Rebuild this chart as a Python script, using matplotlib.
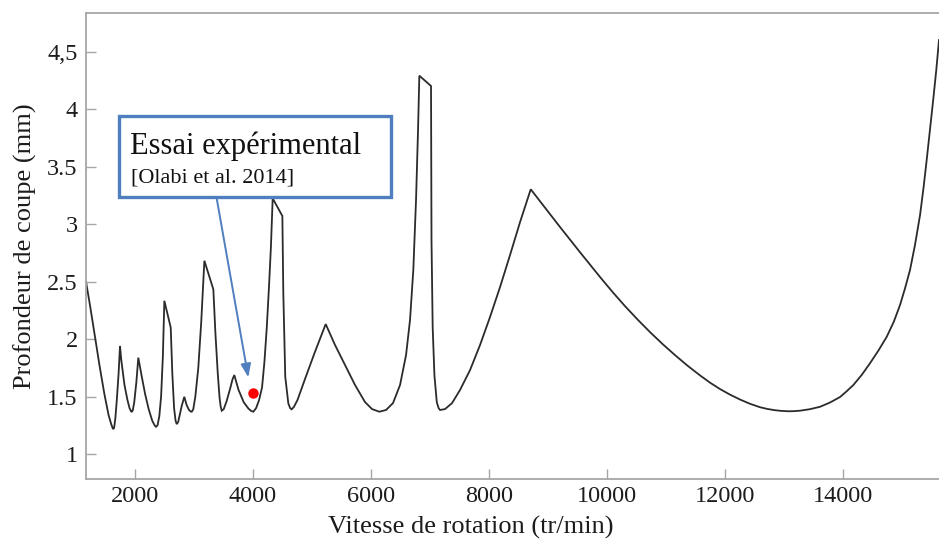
import matplotlib
matplotlib.use("Agg")
import matplotlib.pyplot as plt
from matplotlib.patches import Rectangle

plt.rcParams['font.family'] = ['Liberation Serif', 'DejaVu Serif']

# Stability lobe boundary: spindle speed (tr/min) vs limiting depth of cut (mm)
speed = [1178, 1250, 1330, 1410, 1490, 1560, 1605, 1630, 1641, 1655, 1675, 1700, 1730, 1754,
         1775, 1830, 1880, 1915, 1940, 1953, 1970, 1995, 2030, 2064,
         2120, 2180, 2240, 2300, 2340, 2364, 2390, 2420, 2450, 2480, 2505, 2613,
         2640, 2670, 2695, 2715, 2740, 2770, 2800, 2843, 2880, 2920, 2950, 2969,
         2995, 3030, 3080, 3130, 3183, 3335, 3370, 3410, 3440, 3460, 3477,
         3510, 3560, 3620, 3660, 3690, 3760, 3850, 3930, 3975, 4012,
         4060, 4110, 4160, 4200, 4240, 4280, 4310, 4340, 4504, 4520, 4553, 4605, 4635, 4662,
         4700, 4760, 4900, 5050, 5238,
         5396, 5565, 5735, 5904, 6023, 6147,
         6260, 6378, 6497, 6599, 6666, 6722, 6768, 6802, 6824, 7022,
         7030, 7050, 7080, 7120, 7150, 7175,
         7259, 7378, 7513, 7683, 7852, 8021, 8191, 8360, 8530, 8711,
         8950, 9207, 9550, 9885, 10100, 10308, 10520, 10732, 10945, 11155, 11365,
         11578, 11750, 11917, 12085, 12256, 12425, 12595, 12720, 12849, 12960, 13074,
         13170, 13272, 13440, 13611, 13780, 13950, 14060, 14175, 14320, 14458, 14600,
         14741, 14860, 14966, 15050, 15135, 15220, 15305, 15365, 15418, 15475, 15530,
         15580, 15626]
depth = [2.50, 2.28, 2.02, 1.76, 1.52, 1.34, 1.26, 1.225, 1.217, 1.23, 1.31, 1.47, 1.70, 1.94,
         1.82, 1.60, 1.47, 1.40, 1.372, 1.368, 1.38, 1.45, 1.62, 1.838,
         1.68, 1.52, 1.39, 1.29, 1.25, 1.237, 1.25, 1.33, 1.50, 1.85, 2.333, 2.10,
         1.70, 1.40, 1.29, 1.26, 1.28, 1.35, 1.42, 1.498, 1.43, 1.385, 1.37, 1.368,
         1.39, 1.50, 1.75, 2.15, 2.681, 2.432, 2.05, 1.70, 1.49, 1.41, 1.377,
         1.39, 1.46, 1.57, 1.65, 1.687, 1.56, 1.45, 1.395, 1.375, 1.368,
         1.40, 1.47, 1.58, 1.80, 2.10, 2.48, 2.80, 3.223, 3.07, 2.40, 1.672, 1.44, 1.40, 1.389,
         1.41, 1.47, 1.67, 1.88, 2.13,
         1.948, 1.774, 1.600, 1.452, 1.391, 1.368,
         1.383, 1.443, 1.600, 1.861, 2.165, 2.600, 3.209, 3.817, 4.29, 4.20,
         2.86, 2.10, 1.68, 1.45, 1.40, 1.383,
         1.391, 1.443, 1.557, 1.730, 1.948, 2.191, 2.452, 2.730, 3.017, 3.302,
         3.144, 2.974, 2.752, 2.539, 2.407, 2.286, 2.170, 2.060, 1.956, 1.860, 1.769,
         1.684, 1.620, 1.565, 1.517, 1.474, 1.437, 1.407, 1.392, 1.381, 1.375, 1.372,
         1.373, 1.377, 1.390, 1.411, 1.448, 1.496, 1.545, 1.600, 1.690, 1.790, 1.900,
         2.020, 2.15, 2.296, 2.44, 2.600, 2.82, 3.078, 3.32, 3.56, 3.83, 4.09,
         4.34, 4.60]

# Experimental test point
test_speed = 4000
test_depth = 1.53

x_ticks = [2000, 4000, 6000, 8000, 10000, 12000, 14000]
x_tick_labels = ["2000", "4000", "6000", "8000", "10000", "12000", "14000"]
y_ticks = [1, 1.5, 2, 2.5, 3, 3.5, 4, 4.5]
y_tick_labels = ["1", "1.5", "2", "2.5", "3", "3.5", "4", "4,5"]

fig = plt.figure(figsize=(9.39, 5.39), dpi=100)
ax = fig.add_axes([86 / 939, 1 - 479 / 539, 853 / 939, 466 / 539])

ax.plot(speed, depth, color='#2b2b2b', lw=1.3, solid_joinstyle='miter')
ax.plot([test_speed], [test_depth], 'o', color='#ff0000', markersize=7.5,
        markeredgewidth=0)

ax.set_xlim(1178, 15626)
ax.set_ylim(0.783, 4.835)

ax.set_xticks(x_ticks)
ax.set_xticklabels(x_tick_labels)
ax.set_yticks(y_ticks)
ax.set_yticklabels(y_tick_labels)

spine_color = '#a6a6a6'
for side in ['left', 'bottom', 'top']:
    ax.spines[side].set_color(spine_color)
    ax.spines[side].set_linewidth(1.3)
ax.spines['right'].set_visible(False)
ax.tick_params(direction='in', length=7, width=1, color=spine_color,
               labelsize=17.5, labelcolor='#1c1c1c', pad=6)
ax.tick_params(axis='x', pad=5)

ax.set_xlabel('Vitesse de rotation (tr/min)', fontsize=19, color='#1c1c1c')
ax.xaxis.set_label_coords(0.451, -0.079)
ax.set_ylabel('Profondeur de coupe (mm)', fontsize=19, color='#1c1c1c')
ax.yaxis.set_label_coords(-0.057, 0.5)

# Callout box with arrow pointing to the test point
blue = '#4f7fbf'
box = Rectangle((1737, 3.237), 6344 - 1737, 3.942 - 3.237, fill=True,
                facecolor='white', edgecolor=blue, lw=2.4, zorder=5)
ax.add_patch(box)
ax.text(1930, 3.61, 'Essai expérimental', fontsize=22, color='#111111',
        ha='left', va='baseline', zorder=6)
ax.text(1940, 3.36, '[Olabi et al. 2014]', fontsize=16, color='#111111',
        ha='left', va='baseline', zorder=6)
ax.annotate('', xy=(3927, 1.667), xytext=(3392, 3.222),
            arrowprops=dict(arrowstyle='-|>,head_length=0.8,head_width=0.3',
                            color=blue, lw=1.4, shrinkA=0, shrinkB=0),
            zorder=4)

fig.savefig('out.png', dpi=100)
